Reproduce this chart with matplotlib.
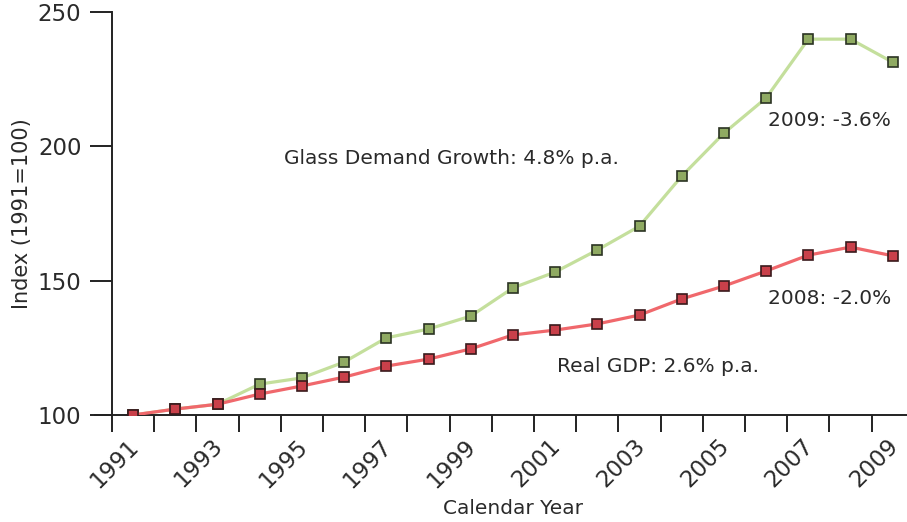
import matplotlib.pyplot as plt
import matplotlib.transforms as mtransforms

years = list(range(1991, 2010))
glass_demand = [100, 102.2, 104, 111.5, 113.8, 119.7, 128.7, 132, 136.8, 147.3,
                153.2, 161.4, 170.3, 188.9, 204.9, 218, 239.9, 239.9, 231.3]
real_gdp = [100, 102.2, 104, 107.8, 110.8, 114.1, 118.2, 120.8, 124.6, 129.8,
            131.6, 133.9, 137.2, 143.2, 148, 153.6, 159.5, 162.5, 159.25]
year_labels = [str(y) if y % 2 == 1 else "" for y in years]

plt.rcParams['font.family'] = ['DejaVu Sans']

fig = plt.figure(figsize=(9.07, 5.22), dpi=100)
ax = fig.add_axes([0.1235, 0.205, 0.884, 0.772])

xs = list(range(len(years)))
ax.plot(xs, glass_demand, color='#c4df9c', lw=2.3, zorder=2,
        marker='s', ms=7.5, mfc='#8faa62', mec='#2b3323', mew=1.2)
ax.plot(xs, real_gdp, color='#f0686c', lw=2.3, zorder=3,
        marker='s', ms=7.5, mfc='#c9404a', mec='#3a1a1c', mew=1.2)

ax.set_xlim(-0.5, len(years) - 0.5)
ax.set_ylim(100, 250)

for s in ['top', 'right']:
    ax.spines[s].set_visible(False)
for s in ['left', 'bottom']:
    ax.spines[s].set_color('#222222')
    ax.spines[s].set_linewidth(1.4)
ax.spines['bottom'].set_bounds(-0.91, len(years) - 0.5)

# tick marks sit on category boundaries, labels at category centres
ax.set_xticks([i - 0.5 for i in range(len(years) + 1)])
ax.set_xticklabels([])
ax.tick_params(axis='x', which='major', length=12, width=1.4, color='#222222')
ax.set_xticks(xs, minor=True)
ax.set_xticklabels(year_labels, minor=True, rotation=45, ha='right', va='top',
                   fontsize=16.5, color='#2a2a2a')
ax.tick_params(axis='x', which='minor', length=0, pad=14)
offset = mtransforms.ScaledTranslation(10 / 100, 0, fig.dpi_scale_trans)
for lbl in ax.xaxis.get_minorticklabels():
    lbl.set_transform(lbl.get_transform() + offset)

ax.set_yticks([100, 150, 200, 250])
ax.tick_params(axis='y', length=16, width=1.4, color='#222222',
               labelsize=16.5, labelcolor='#2a2a2a', pad=6)

ax.set_ylabel("Index (1991=100)", fontsize=15, color='#2a2a2a', labelpad=4)
ax.set_xlabel("Calendar Year", fontsize=14.5, color='#2a2a2a', labelpad=5)

txt = dict(fontsize=14.5, color='#2a2a2a', va='center')
ax.text(3.58, 195.6, "Glass Demand Growth: 4.8% p.a.", **txt)
ax.text(15.05, 209.8, "2009: -3.6%", **txt)
ax.text(15.05, 143.5, "2008: -2.0%", **txt)
ax.text(10.05, 118.2, "Real GDP: 2.6% p.a.", **txt)

plt.savefig("out.png", dpi=100)
